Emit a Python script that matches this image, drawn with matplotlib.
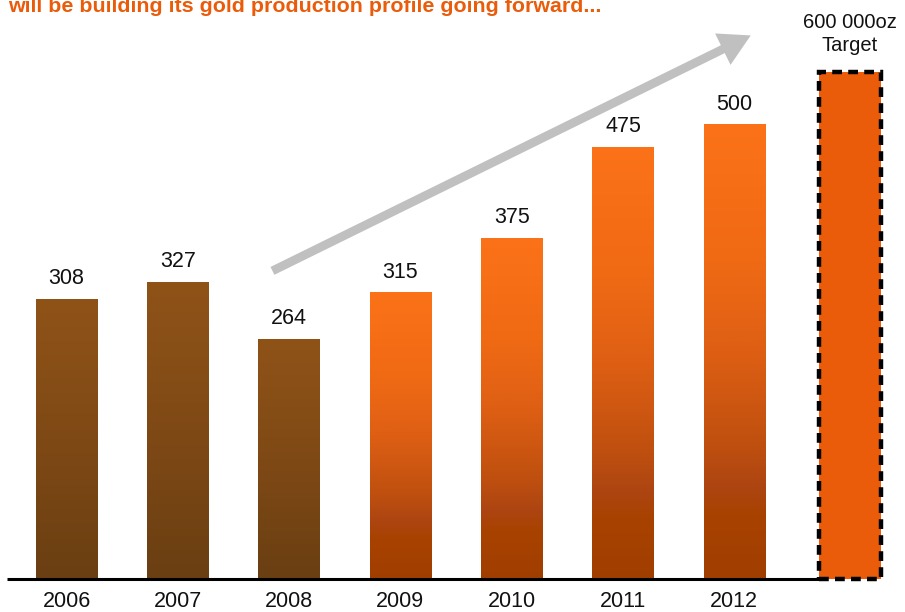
import matplotlib
matplotlib.use("Agg")
import matplotlib.pyplot as plt
import numpy as np
from matplotlib.colors import LinearSegmentedColormap
from matplotlib.patches import Rectangle, FancyArrowPatch

plt.rcParams['font.family'] = ['Liberation Sans', 'DejaVu Sans']

# Gold production (000 oz)
years = ["2006", "2007", "2008", "2009", "2010", "2011", "2012"]
production = [308, 327, 264, 315, 375, 475, 500]
is_forecast = [False, False, False, True, True, True, True]
target_label = "600 000oz\nTarget"
target_bar_height = 558
title = "will be building its gold production profile going forward..."

W, H, DPI = 905, 612, 100
fig = plt.figure(figsize=(W / DPI, H / DPI), dpi=DPI)

# axes spanning the plot region in pixel terms
ax_bottom_px = 33
ax = fig.add_axes([7 / W, ax_bottom_px / H, (W - 7) / W, (H - ax_bottom_px) / H])
step_px = 111.3
x0_px = 66.5
ax.set_xlim((7 - x0_px) / step_px, (W - x0_px) / step_px)
ax.set_ylim(0, (H - ax_bottom_px) / 0.908)
ax.axis("off")

brown_cmap = LinearSegmentedColormap.from_list(
    "brown", [(0.0, "#8f5318"), (0.5, "#7f4915"), (1.0, "#6a3f12")])
orange_cmap = LinearSegmentedColormap.from_list(
    "orange", [(0.0, "#fb7218"), (0.3, "#f06a14"), (0.5, "#de5f14"),
               (0.7, "#c0500f"), (0.8, "#ad4512"), (0.86, "#a84200"),
               (1.0, "#a03e00")])

bar_w = 0.55
grad = np.linspace(0, 1, 256).reshape(-1, 1)
for i, (yr, val, fc) in enumerate(zip(years, production, is_forecast)):
    cmap = orange_cmap if fc else brown_cmap
    left = i - bar_w / 2
    ax.imshow(grad, cmap=cmap, aspect="auto", interpolation="bilinear",
              extent=(left, left + bar_w, 0, val), origin="upper", zorder=2)
    ax.text(i, val + 23, str(val), ha="center", va="center",
            fontsize=15.5, color="#111111", zorder=4)
    ax.text(i, -25, yr, ha="center", va="center", fontsize=15.5,
            color="#111111", clip_on=False)

# target bar with dashed outline
tx = len(years) + 0.04
ax.add_patch(Rectangle((tx - bar_w / 2, 0), bar_w, target_bar_height,
                       facecolor="#ea5b0a", edgecolor="black", lw=3.2,
                       linestyle=(0, (2.2, 1.4)), zorder=3, clip_on=False))
ax.text(tx, target_bar_height + 42, target_label, ha="center", va="center",
        fontsize=14.5, color="#111111", linespacing=1.25)

# baseline
ax.plot([ax.get_xlim()[0], tx - bar_w / 2], [0, 0], color="black", lw=2.2,
        zorder=5, solid_capstyle="butt", clip_on=False)

# growth arrow
arrow = FancyArrowPatch((1.828, 338), (6.17, 600),
                        arrowstyle="simple,head_length=1.6,head_width=1.8,tail_width=0.45",
                        mutation_scale=14, color="#c0c0c0", lw=0, zorder=1)
ax.add_patch(arrow)

fig.text(8 / W, 1 - 12 / H, title, ha="left", va="baseline", fontsize=15.4,
         fontweight="bold", color="#ea5b0a")

fig.savefig("out.png", dpi=DPI)
